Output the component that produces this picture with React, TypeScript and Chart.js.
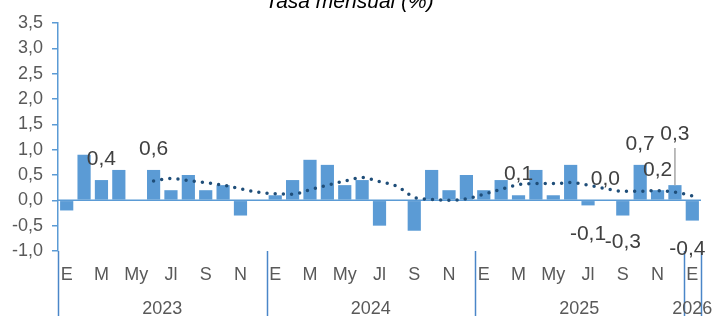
import { useEffect, useRef } from 'react';
import { Chart, registerables } from 'chart.js';
Chart.register(...registerables);

const monthAbbr = ['E', 'F', 'M', 'A', 'My', 'Jn', 'Jl', 'A', 'S', 'O', 'N', 'D'];
const years = ['2023', '2024', '2025', '2026'];
const monthsInYear = [12, 12, 12, 1];

// Tasa mensual (%), Ene 2023 - Ene 2026
const monthlyRate = [
  -0.2, 0.9, 0.4, 0.6, 0.0, 0.6, 0.2, 0.5, 0.2, 0.3, -0.3, 0.0,
  0.1, 0.4, 0.8, 0.7, 0.3, 0.4, -0.5, 0.0, -0.6, 0.6, 0.2, 0.5,
  0.2, 0.4, 0.1, 0.6, 0.1, 0.7, -0.1, 0.0, -0.3, 0.7, 0.2, 0.3,
  -0.4,
];

// Dotted trend line
const trend = [
  null, null, null, null, null, 0.38, 0.43, 0.39, 0.35, 0.30, 0.23, 0.16,
  0.13, 0.12, 0.21, 0.30, 0.38, 0.45, 0.37, 0.28, 0.06, 0.02, 0.0, 0.03,
  0.12, 0.22, 0.31, 0.33, 0.33, 0.35, 0.30, 0.23, 0.18, 0.18, 0.19, 0.16,
  0.09,
];

// which bars carry a value label
const labelledMonths = [2, 5, 26, 30, 31, 32, 33, 34, 35, 36];

const categories = monthlyRate.map((_, i) => `${monthAbbr[i % 12]} ${years[Math.floor(i / 12)]}`);

// annotation placement (label centre, in axis units) and small horizontal nudges
const labelY = [0.85, 1.05, 0.55, -0.63, 0.46, -0.79, 1.15, 0.63, 1.33, -0.93];
const labelDx = [0, 0, 0, 0, 0, 0, 0, 0, 0, -5];
const labelLeader = [false, false, false, false, false, false, false, false, true, false];

const fmt = (v: number) => v.toFixed(1).replace('.', ',');
const FONT = '"Liberation Sans", Arial, sans-serif';
const AXIS_BLUE = '#5B9BD5';
const SEP_BLUE = '#4A86C8';

const overlayPlugin = {
  id: 'overlay',
  beforeDatasetsDraw(chart: any) {
    const { ctx, chartArea } = chart;
    const y = chart.scales.y;
    const y0 = y.getPixelForValue(0);
    ctx.save();
    ctx.strokeStyle = AXIS_BLUE;
    ctx.lineWidth = 1.5;
    ctx.beginPath();
    ctx.moveTo(chartArea.left, y0);
    ctx.lineTo(chartArea.right, y0);
    ctx.stroke();
    ctx.restore();
  },
  afterDraw(chart: any) {
    const { ctx, chartArea, width, height } = chart;
    const x = chart.scales.x;
    const y = chart.scales.y;
    const n = monthlyRate.length;
    const bin = (chartArea.right - chartArea.left) / n;
    ctx.save();

    // left axis extension and year separators
    ctx.strokeStyle = SEP_BLUE;
    ctx.lineWidth = 1.5;
    let idx = 0;
    const bounds = [0];
    monthsInYear.forEach((m) => { idx += m; bounds.push(idx); });
    bounds.forEach((b) => {
      const px = Math.round(chartArea.left + b * bin) + 0.5;
      ctx.beginPath();
      ctx.moveTo(px, chartArea.bottom);
      ctx.lineTo(px, height);
      ctx.stroke();
    });

    // month labels
    ctx.fillStyle = '#595959';
    ctx.font = `18px ${FONT}`;
    ctx.textAlign = 'center';
    ctx.textBaseline = 'alphabetic';
    for (let i = 0; i < n; i++) {
      if (i % 2 !== 0) continue;
      ctx.fillText(monthAbbr[i % 12], x.getPixelForValue(i), 280);
    }
    // year labels
    let start = 0;
    years.forEach((yr, k) => {
      const end = start + monthsInYear[k];
      const cx = (x.getPixelForValue(start) + x.getPixelForValue(end - 1)) / 2;
      ctx.fillText(yr, cx, 314);
      start = end;
    });

    // value annotations
    ctx.font = `21px ${FONT}`;
    ctx.fillStyle = '#404040';
    labelledMonths.forEach((mi, k) => {
      const cx = x.getPixelForValue(mi) + labelDx[k];
      const cy = y.getPixelForValue(labelY[k]);
      ctx.fillText(fmt(monthlyRate[mi]), cx, cy + 7.5);
      if (labelLeader[k]) {
        ctx.strokeStyle = '#A6A6A6';
        ctx.lineWidth = 1.5;
        ctx.beginPath();
        ctx.moveTo(x.getPixelForValue(mi), cy + 15);
        ctx.lineTo(x.getPixelForValue(mi), y.getPixelForValue(monthlyRate[mi]));
        ctx.stroke();
      }
    });

    // title (partly cut off at the top)
    ctx.fillStyle = '#000000';
    ctx.font = `italic 21px ${FONT}`;
    ctx.fillText('Tasa mensual (%)', width / 2 - 7, 8);
    ctx.restore();
  },
};

export default function App() {
  const ref = useRef<HTMLCanvasElement | null>(null);
  useEffect(() => {
    if (!ref.current) return;
    const chart = new Chart(ref.current, {
      type: 'bar',
      data: {
        labels: categories,
        datasets: [
          {
            type: 'line',
            data: trend,
            borderColor: '#1F4E79',
            borderWidth: 3.5,
            borderDash: [0, 8.2],
            borderCapStyle: 'round',
            pointRadius: 0,
            cubicInterpolationMode: 'monotone',
            fill: false,
            order: 0,
          } as any,
          {
            type: 'bar',
            data: monthlyRate,
            backgroundColor: '#5B9BD5',
            borderWidth: 0,
            barPercentage: 0.76,
            categoryPercentage: 1,
            order: 1,
          },
        ],
      },
      options: {
        animation: false,
        responsive: false,
        layout: { padding: { top: 23, bottom: 65, right: 12, left: 0 } },
        plugins: { legend: { display: false }, tooltip: { enabled: false }, title: { display: false } },
        scales: {
          x: { display: false, grid: { display: false } },
          y: {
            min: -1,
            max: 3.5,
            afterFit: (s: any) => { s.width = 58; },
            ticks: {
              stepSize: 0.5,
              padding: 9,
              color: '#595959',
              font: { family: FONT, size: 18 },
              callback: (v: any) => fmt(Number(v)),
            },
            grid: { drawOnChartArea: false, drawTicks: true, tickLength: 6, color: AXIS_BLUE, lineWidth: 1.5 },
            border: { display: true, color: AXIS_BLUE, width: 1.5 },
          },
        },
      },
      plugins: [overlayPlugin],
    });
    return () => chart.destroy();
  }, []);
  return (
    <div style={{ position: 'absolute', left: 0, top: 0, width: 713, height: 316, background: '#fff' }}>
      <canvas ref={ref} width={713} height={316} style={{ display: 'block' }} />
    </div>
  );
}
